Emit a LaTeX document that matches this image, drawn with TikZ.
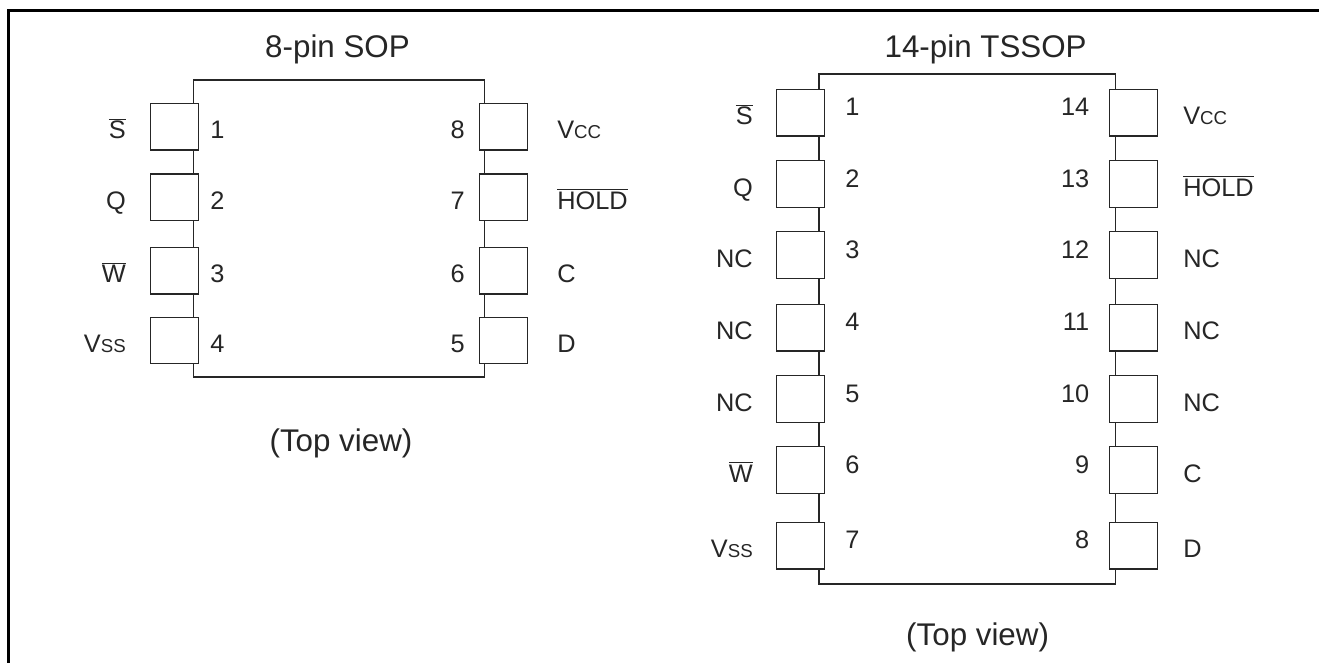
\documentclass[tikz,border=0pt]{standalone}
\usepackage{fontspec}
\setmainfont{Liberation Sans}
\newcommand{\ovl}[1]{$\overline{\mbox{#1}}$}
\newcommand{\vsub}[2]{#1{\fontsize{14}{14}\selectfont #2}}
\definecolor{ink}{gray}{0.15}
\begin{document}
\begin{tikzpicture}[x=0.75pt,y=-0.75pt,
  pinbox/.style={draw=ink, fill=white, line width=0.9pt, inner sep=0pt,
    minimum width=36pt, minimum height=35pt},
  body/.style={draw=ink, line width=0.9pt},
  lbl/.style={inner sep=0pt, font=\fontsize{19}{19}\selectfont, text=ink},
  ttl/.style={inner sep=0pt, font=\fontsize{23.5}{23.5}\selectfont, text=ink, anchor=base},
  lname/.style={lbl, anchor=base east},
  rname/.style={lbl, anchor=base west},
  lnum/.style={lbl, anchor=base west},
  rnum/.style={lbl, anchor=base east}]
\useasboundingbox (0,0) rectangle (1319,663);
\fill[white] (0,0) rectangle (1319,663);
% outer frame
\draw[line width=2.25pt, black] (1325,10.5) -- (8,10.5) -- (8,670);

% ---------- 8-pin SOP ----------
\node[ttl] (t1) at (337.5,58) {8-pin SOP};
\draw[body] (193.3,80) rectangle (484.3,377);
\foreach \n/\y/\nm in {1/126.7/\ovl{S}, 2/197.3/Q, 3/270.7/\ovl{W}, 4/340.5/\vsub{V}{SS}}{
  \node[pinbox] (sL\n) at (174.5,\y) {};
  \node[lname] (sLn\n) at (126,\y+12) {\nm};
  \node[lnum] (sLk\n) at (210,\y+12) {\n};
}
\foreach \n/\y/\nm in {8/126.7/\vsub{V}{CC}, 7/197.3/\ovl{HOLD}, 6/270.7/C, 5/340.5/D}{
  \node[pinbox] (sR\n) at (503.8,\y) {};
  \node[rname] (sRn\n) at (557,\y+12) {\nm};
  \node[rnum] (sRk\n) at (465,\y+12) {\n};
}
\node[ttl] (v1) at (341,451.7) {(Top view)};

% ---------- 14-pin TSSOP ----------
\node[ttl] (t2) at (985.6,57.5) {14-pin TSSOP};
\draw[body] (819,74) rectangle (1115.2,584);
\foreach \n/\y/\nm in {1/112.7/\ovl{S}, 2/184/Q, 3/255/NC, 4/327.7/NC, 5/399.2/NC, 6/470/\ovl{W}, 7/545.7/\vsub{V}{SS}}{
  \node[pinbox] (tL\n) at (800.7,\y) {};
  \node[lname] (tLn\n) at (753,\y+12) {\nm};
  \node[lnum] (tLk\n) at (845,\y+3) {\n};
}
\foreach \n/\y/\nm in {14/112.7/\vsub{V}{CC}, 13/184/\ovl{HOLD}, 12/255/NC, 11/327.7/NC, 10/399.2/NC, 9/470/C, 8/545.7/D}{
  \node[pinbox] (tR\n) at (1133.2,\y) {};
  \node[rname] (tRn\n) at (1183,\y+12) {\nm};
  \node[rnum] (tRk\n) at (1089.5,\y+3) {\n};
}
\node[ttl] (v2) at (977.6,645) {(Top view)};
\end{tikzpicture}
\end{document}
